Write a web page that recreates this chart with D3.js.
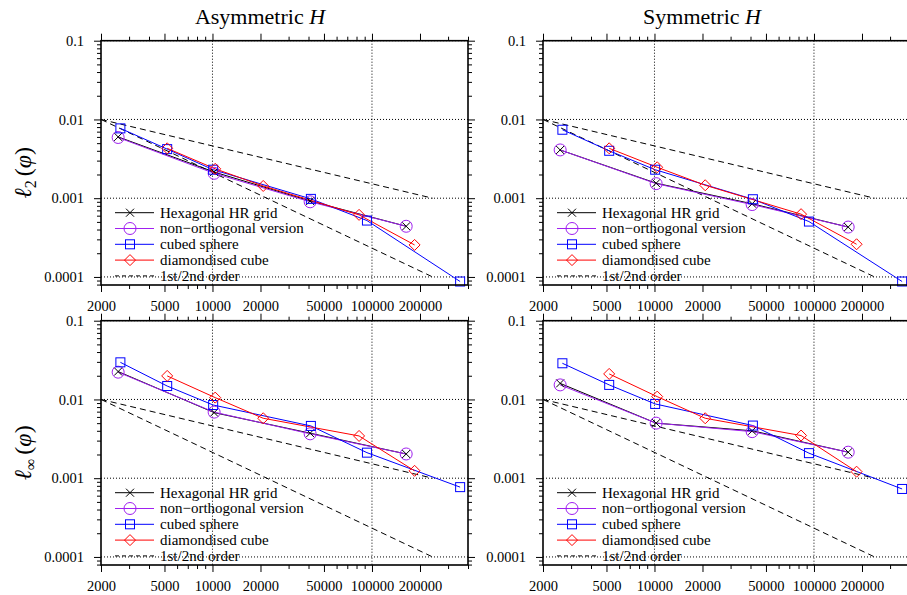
<!DOCTYPE html>
<html>
<head>
<meta charset="utf-8">
<script src="https://cdn.jsdelivr.net/npm/d3@7"></script>
<style>
  body { margin: 0; background: white; }
  svg { display: block; }
  svg text { font-family: "Liberation Serif", "Times New Roman", serif; }
</style>
</head>
<body>
<div id="chart"></div>
<script>

// grid sizes (number of cells) for each family of grids
var hexN  = [2562, 10242, 40962, 163842];
var cubeN = [2646, 5200, 10100, 41400, 93000, 357000];
var diamN = [5200, 10400, 20800, 83000, 185000];

// 1st / 2nd order reference lines
var refN   = [2000, 240000];
var order1 = [0.01, 0.001];
var order2 = [0.01, 0.0001];

// l2 error, asymmetric H
var hexL2Asym  = [0.0060, 0.00215, 0.00092, 0.00044];
var nonL2Asym  = [0.0059, 0.00207, 0.00090, 0.00044];
var cubeL2Asym = [0.0077, 0.0042, 0.0023, 0.00098, 0.00052, 0.0000875];
var diamL2Asym = [0.0043, 0.00236, 0.00143, 0.000614, 0.000255];

// l2 error, symmetric H
var hexL2Sym  = [0.0041, 0.00155, 0.00085, 0.00043];
var nonL2Sym  = [0.0041, 0.00153, 0.00083, 0.00043];
var cubeL2Sym = [0.0074, 0.0040, 0.0023, 0.00097, 0.000505, 0.0000875];
var diamL2Sym = [0.0043, 0.00247, 0.00146, 0.000627, 0.00026];

// linf error, asymmetric H
var hexLinfAsym  = [0.0226, 0.0068, 0.00373, 0.00203];
var nonLinfAsym  = [0.0222, 0.0069, 0.00366, 0.00203];
var cubeLinfAsym = [0.0296, 0.0148, 0.0085, 0.00461, 0.00211, 0.00077];
var diamLinfAsym = [0.0199, 0.01055, 0.00577, 0.00344, 0.00124];

// linf error, symmetric H
var hexLinfSym  = [0.0160, 0.0050, 0.0040, 0.00214];
var nonLinfSym  = [0.0153, 0.0050, 0.0039, 0.00214];
var cubeLinfSym = [0.0288, 0.0153, 0.00877, 0.00466, 0.00208, 0.00073];
var diamLinfSym = [0.0211, 0.01086, 0.00577, 0.00348, 0.00121];

var legendNames = ["Hexagonal HR grid", "non\u2212orthogonal version", "cubed sphere", "diamondised cube", "1st/2nd order"];
var xMajor = [2000, 5000, 10000, 20000, 50000, 100000, 200000];
var xMinor = [3000, 4000, 6000, 7000, 8000, 9000, 30000, 40000, 60000, 70000, 80000, 90000, 300000, 400000];
var yMajor = [0.1, 0.01, 0.001, 0.0001];
var titles = ["Asymmetric ", "Symmetric "];

var W = 907, H = 595;
var pw = 367, ph = 244.3;
var font = "'Liberation Serif', 'Times New Roman', serif";

var svg = d3.select("#chart").append("svg")
    .attr("width", W)
    .attr("height", H)
    .style("font-family", font);

var x = d3.scaleLog().domain([2000, 400000]).range([0, pw]);
var y = d3.scaleLog().domain([7.9e-5, 0.1]).range([ph, 0]);

var yMinor = [];
[0.0001, 0.001, 0.01].forEach(function(d) {
  for (var k = 2; k <= 9; k++) yMinor.push(d * k);
});
yMinor.push(0.00008, 0.00009);

var panels = [
  {left: 101,   top: 40.7,  label: "2", data: [hexL2Asym, nonL2Asym, cubeL2Asym, diamL2Asym]},
  {left: 543,   top: 40.7,  label: null, data: [hexL2Sym, nonL2Sym, cubeL2Sym, diamL2Sym]},
  {left: 101,   top: 320.7, label: "\u221E", data: [hexLinfAsym, nonLinfAsym, cubeLinfAsym, diamLinfAsym]},
  {left: 543,   top: 320.7, label: null, data: [hexLinfSym, nonLinfSym, cubeLinfSym, diamLinfSym]}
];

var colors = ["#000000", "#a020f0", "#0000ff", "#ff0000"];
var xs = [hexN, hexN, cubeN, diamN];
var symbols = ["cross", "circle", "square", "diamond"];

function drawSymbol(g, kind, cx, cy, color) {
  if (kind == "cross") {
    g.append("path")
      .attr("d", "M" + (cx - 4) + "," + (cy - 4) + "L" + (cx + 4) + "," + (cy + 4) +
                 "M" + (cx - 4) + "," + (cy + 4) + "L" + (cx + 4) + "," + (cy - 4))
      .attr("stroke", color).attr("stroke-width", 1).attr("fill", "none");
  } else if (kind == "circle") {
    g.append("circle").attr("cx", cx).attr("cy", cy).attr("r", 6)
      .attr("stroke", color).attr("stroke-width", 1).attr("fill", "none");
  } else if (kind == "square") {
    g.append("rect").attr("x", cx - 4.5).attr("y", cy - 4.5).attr("width", 9).attr("height", 9)
      .attr("stroke", color).attr("stroke-width", 1).attr("fill", "none");
  } else {
    g.append("path")
      .attr("d", "M" + cx + "," + (cy - 5.5) + "L" + (cx + 5.5) + "," + cy + "L" + cx + "," + (cy + 5.5) + "L" + (cx - 5.5) + "," + cy + "Z")
      .attr("stroke", color).attr("stroke-width", 1).attr("fill", "none");
  }
}

var line = d3.line()
    .x(function(d) { return x(d[0]); })
    .y(function(d) { return y(d[1]); });

panels.forEach(function(p, pi) {
  var g = svg.append("g")
      .attr("transform", "translate(" + p.left + "," + p.top + ")");

  // grid lines
  g.selectAll(".hgrid").data(yMajor).enter().append("line")
      .attr("x1", 0).attr("x2", pw)
      .attr("y1", function(d) { return y(d); })
      .attr("y2", function(d) { return y(d); })
      .attr("stroke", "#000").attr("stroke-width", 1).attr("stroke-dasharray", "1,2");
  g.selectAll(".vgrid").data([10000, 100000]).enter().append("line")
      .attr("y1", 0).attr("y2", ph)
      .attr("x1", function(d) { return x(d); })
      .attr("x2", function(d) { return x(d); })
      .attr("stroke", "#000").attr("stroke-width", 1).attr("stroke-dasharray", "1,2");

  // reference lines
  [order1, order2].forEach(function(r) {
    g.append("path")
      .datum(refN.map(function(n, i) { return [n, r[i]]; }))
      .attr("d", line)
      .attr("fill", "none")
      .attr("stroke", "#000")
      .attr("stroke-width", 1)
      .attr("stroke-dasharray", "6,4");
  });

  // series
  p.data.forEach(function(vals, si) {
    var pts = xs[si].map(function(n, i) { return [n, vals[i]]; });
    g.append("path")
      .datum(pts)
      .attr("d", line)
      .attr("fill", "none")
      .attr("stroke", colors[si])
      .attr("stroke-width", 1);
  });
  p.data.forEach(function(vals, si) {
    xs[si].forEach(function(n, i) {
      drawSymbol(g, symbols[si], x(n), y(vals[i]), colors[si]);
    });
  });

  // axes
  var tickText = function(sel) {
    sel.select(".domain").remove();
    sel.attr("font-family", null);
    sel.selectAll("text").style("font-family", font).style("font-size", "14.5px").attr("fill", "#000");
    sel.selectAll("line").attr("stroke", "#000");
  };
  g.append("g").call(d3.axisLeft(y).tickValues(yMajor).tickSize(7).tickPadding(10)
      .tickFormat(function(d) { return String(d); })).call(tickText);
  g.append("g").call(d3.axisLeft(y).tickValues(yMinor).tickSize(4).tickFormat("")).call(tickText);
  g.append("g").attr("transform", "translate(" + pw + ",0)")
      .call(d3.axisRight(y).tickValues(yMajor).tickSize(7).tickFormat("")).call(tickText);
  g.append("g").attr("transform", "translate(" + pw + ",0)")
      .call(d3.axisRight(y).tickValues(yMinor).tickSize(4).tickFormat("")).call(tickText);

  g.append("g").attr("transform", "translate(0," + ph + ")")
      .call(d3.axisBottom(x).tickValues(xMajor).tickSize(7).tickPadding(9)
        .tickFormat(function(d) { return String(d); })).call(tickText);
  g.append("g").attr("transform", "translate(0," + ph + ")")
      .call(d3.axisBottom(x).tickValues(xMinor).tickSize(4).tickFormat("")).call(tickText);
  g.append("g").call(d3.axisTop(x).tickValues(xMajor).tickSize(7).tickFormat("")).call(tickText);
  g.append("g").call(d3.axisTop(x).tickValues(xMinor).tickSize(4).tickFormat("")).call(tickText);

  // frame
  g.append("rect")
      .attr("width", pw).attr("height", ph)
      .attr("fill", "none").attr("stroke", "#000").attr("stroke-width", 1.6);

  // legend
  var lg = g.append("g");
  legendNames.forEach(function(name, i) {
    var ly = 172 + i * 15.8;
    if (i < 4) {
      lg.append("line").attr("x1", 14).attr("x2", 53).attr("y1", ly).attr("y2", ly)
        .attr("stroke", colors[i]).attr("stroke-width", 1);
      drawSymbol(lg, symbols[i], 29, ly, colors[i]);
    } else {
      lg.append("line").attr("x1", 14).attr("x2", 53).attr("y1", ly).attr("y2", ly)
        .attr("stroke", "#000").attr("stroke-width", 1).attr("stroke-dasharray", "4,3");
    }
    lg.append("text").attr("x", 59).attr("y", ly + 5)
      .style("font-family", font)
      .style("font-size", "15px").text(name);
  });

  // titles for top row
  if (pi < 2) {
    var t = svg.append("text")
        .attr("x", p.left + 159).attr("y", 24)
        .attr("text-anchor", "middle")
        .style("font-family", font)
        .style("font-size", "22px");
    t.append("tspan").text(titles[pi]);
    t.append("tspan").style("font-style", "italic").text("H");
  }

  // y label on left column
  if (p.label) {
    var yl = svg.append("text")
        .attr("transform", "translate(31," + (p.top + 132) + ") rotate(-90)")
        .attr("text-anchor", "middle")
        .style("font-family", font)
        .style("font-size", "24px");
    yl.append("tspan").style("font-style", "italic").text("\u2113");
    yl.append("tspan").attr("dy", 5).style("font-size", "16px").text(p.label);
    yl.append("tspan").attr("dy", -5).attr("dx", 4).text("(");
    yl.append("tspan").style("font-style", "italic").text("\u03C6");
    yl.append("tspan").text(")");
  }
});

</script>
</body>
</html>
